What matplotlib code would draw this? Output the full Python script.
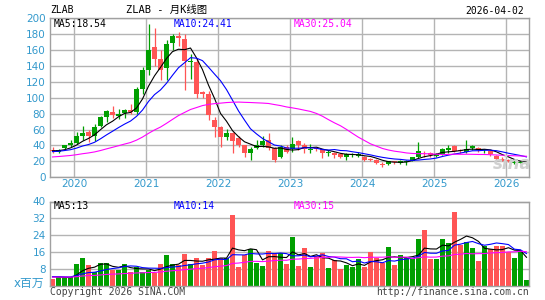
import numpy as np
import pandas as pd
import matplotlib
matplotlib.use("Agg")
import matplotlib.pyplot as plt

# ZLAB 月K线, 2019-09 .. 2026-04
months = pd.period_range("2019-09", "2026-04", freq="M")

opens = [34, 32, 37, 40, 43, 52, 57, 52, 65, 76, 82, 77, 81, 84, 82, 111,
         135, 164, 149, 137, 168, 177, 174, 144.5, 145, 107, 105, 72, 63, 51, 55, 49,
         40, 31, 37, 40, 47, 37, 26, 38, 35, 46, 40, 34, 37, 35, 30, 31,
         29, 26, 28, 27, 26, 23, 22, 17, 17, 20, 18, 19, 20.5, 26, 31, 30,
         27, 29, 34, 39, 34, 32, 36.5, 37, 34, 33, 27, 23, 21.5, 18.5, 18.5, 17.5]
highs = [38, 35, 41, 47, 57, 64, 60, 67, 77, 84, 89, 86, 86, 92, 113, 138,
         193, 188, 160, 172, 180, 182, 180, 155, 150, 108, 108, 76, 64, 61, 57, 52,
         41, 38, 47, 52, 55, 38, 40, 40, 51, 47, 43, 42, 38, 36, 34, 32,
         30, 31, 31, 32, 27, 24.5, 23, 19, 21, 21, 22, 22, 26, 44, 33, 32,
         31, 37, 40, 41, 36, 47, 40, 38, 36, 34, 28, 25, 22.5, 21.5, 21, 20.5]
lows = [31, 31, 36, 38, 42, 47, 44, 46, 63, 70, 74, 73, 74, 80, 80, 105,
        128, 140, 122, 122, 160, 165, 109, 124, 100, 99, 72, 50, 38, 47, 30, 38,
        26, 22, 35, 38, 34, 19, 24, 30, 32, 34, 30, 31, 33, 24, 27, 24,
        24, 22, 25, 25, 20, 20, 17, 13, 16, 17, 17, 16, 20, 24, 26, 26,
        25, 28, 30, 32, 31, 31, 34, 32, 31, 27, 22, 20, 19, 17, 17.5, 17]
closes = [32.5, 34, 40.5, 43.5, 52, 56, 52, 63, 76, 83, 78, 80, 84, 82, 111, 135,
          160, 149, 135, 167, 178, 175, 146, 145.5, 105, 104, 78, 63, 51, 56, 45, 40,
          31, 36, 41, 46, 37, 22, 38, 32, 42, 40, 36, 36, 35, 30, 31.5, 28,
          26, 29, 29, 29, 22, 22, 18, 16, 20, 19, 21, 20, 25.5, 33, 30, 28,
          29, 36, 37, 33, 33, 35, 39, 34, 35, 29, 23, 21, 20, 19, 18.5, 18]
volumes = [3, 4, 4, 4, 10.3, 13.2, 9.8, 6.7, 11, 11, 7.5, 7.5, 10.3, 6.7, 8.7, 6.7,
           7.5, 6.2, 10.3, 14.6, 10.3, 9.8, 15, 10.3, 13.2, 9.8, 13.2, 16.5, 13, 13, 33.6, 9,
           14.6, 17.3, 11, 9.4, 16.5, 15, 15.7, 10.3, 22.9, 9.4, 18.1, 8.9, 14.3, 15.7, 8.4, 12.2,
           8.1, 9.8, 9, 12.7, 8.7, 16.2, 13, 11, 18.6, 9.8, 14.6, 13, 13, 22.2, 26.5, 12.7,
           12.7, 22.2, 20.5, 35.2, 19.4, 20.6, 18.1, 11.9, 18.9, 17.3, 18.9, 18.9, 16.2, 13.2, 16.5, 2.7]

# 2019-09 之前的数据, 只用来算均线
prev_closes = [18, 21, 24, 22, 20, 22, 25, 23, 21, 19, 20, 22, 24, 21, 19,
               20, 22, 25, 27, 29, 30, 31, 33, 32, 30, 33, 35, 32, 34]
prev_volumes = [3, 4, 5, 4, 3, 4, 5, 4, 3, 4, 4, 5, 4, 3, 4,
                4, 5, 4, 4, 3, 4, 5, 4, 4, 5, 4, 5, 5, 4]

price_ticks = list(range(0, 201, 20))
vol_ticks = [8, 16, 24, 32, 40]

UP = "#009f00"
DOWN = "#ff5555"
GRID = "#b4b4b4"
TICK = "#3399cc"

def ma(prev, vals, n):
    s = pd.Series(prev + vals).rolling(n).mean().values
    return s[len(prev):]

x = np.arange(len(months))
o = np.array(opens); c = np.array(closes)
h = np.array(highs); l = np.array(lows)
colors = [UP if cc >= oo else DOWN for oo, cc in zip(o, c)]

year_idx = [i for i, m in enumerate(months) if m.month == 1]
year_pos = [i - 0.4 for i in year_idx]
year_labels = [str(months[i].year) for i in year_idx]

W, H = 545, 300
fig = plt.figure(figsize=(W / 100, H / 100), dpi=100)
fig.patch.set_facecolor("white")

def fx(px): return px / W
def fy(py): return 1 - py / H

# ---- 主图 ----
ax = fig.add_axes([fx(50), fy(177.3), fx(479.3), 159.3 / H])
ax.set_xlim(-0.42, 79.47)
ax.set_ylim(0, 200)
ax.set_yticks(price_ticks)
ax.set_xticks(year_pos)
ax.set_xticklabels(year_labels)
ax.grid(True, color=GRID, lw=1.0)
ax.set_axisbelow(True)

ax.vlines(x, l, h, colors=colors, lw=0.9, zorder=2)
body = np.maximum(np.abs(c - o), 1.0)
ax.bar(x, body, bottom=np.minimum(o, c), width=0.75, color=colors, lw=0, zorder=3)

ax.plot(x, ma(prev_closes, closes, 5), color="black", lw=0.8, zorder=4)
ax.plot(x, ma(prev_closes, closes, 10), color="#0000ff", lw=0.8, zorder=4)
ax.plot(x, ma(prev_closes, closes, 30), color="#ff00ff", lw=0.8, zorder=4)

# ---- 成交量 ----
av = fig.add_axes([fx(50), fy(285.7), fx(479.3), 84.2 / H])
av.set_xlim(-0.42, 79.47)
av.set_ylim(0, 40)
av.set_yticks(vol_ticks)
av.set_xticks([])
av.grid(True, axis="y", color=GRID, lw=1.0)
av.set_axisbelow(True)
av.bar(x, volumes, width=0.82, color=colors, lw=0, zorder=2)
av.plot(x, ma(prev_volumes, volumes, 5), color="black", lw=0.8, zorder=3)
av.plot(x, ma(prev_volumes, volumes, 10), color="#0000ff", lw=0.8, zorder=3)
av.plot(x, ma(prev_volumes, volumes, 30), color="#ff00ff", lw=0.8, zorder=3)

for a in (ax, av):
    for sp in a.spines.values():
        sp.set_color("#a0a0a0")
        sp.set_linewidth(1.0)
    a.tick_params(length=0, colors=TICK, labelsize=7.5, pad=3)
    for t in a.get_yticklabels():
        t.set_fontfamily("DejaVu Sans")
ax.tick_params(axis="x", pad=1)

mono = ["DejaVu Sans Mono", "Noto Sans CJK SC"]
sans = ["DejaVu Sans", "Noto Sans CJK SC"]

fig.text(fx(50), fy(10), "ZLAB", family=mono, fontsize=7, va="center")
fig.text(fx(167), fy(10), "ZLAB - 月K线图", family=mono, fontsize=7.5, va="center", ha="center")
fig.text(fx(524), fy(11), "2026-04-02", family=mono, fontsize=7, va="center", ha="right")

fig.text(fx(54), fy(24), "MA5:18.54", family=mono, fontsize=7, va="center", color="black")
fig.text(fx(174), fy(24), "MA10:24.41", family=mono, fontsize=7, va="center", color="#0000ff")
fig.text(fx(294), fy(24), "MA30:25.04", family=mono, fontsize=7, va="center", color="#ff00ff")

fig.text(fx(54), fy(206), "MA5:13", family=mono, fontsize=7, va="center", color="black")
fig.text(fx(174), fy(206), "MA10:14", family=mono, fontsize=7, va="center", color="#0000ff")
fig.text(fx(294), fy(206), "MA30:15", family=mono, fontsize=7, va="center", color="#ff00ff")

fig.text(fx(44), fy(283), "x百万", family=sans, fontsize=8.5, va="center", ha="right", color=TICK)
fig.text(fx(50), fy(292), "Copyright 2026 SINA.COM", family=mono, fontsize=7, va="center", color="#444444")
fig.text(fx(529), fy(292), "http://finance.sina.com.cn", family=mono, fontsize=7, va="center",
         ha="right", color="#444444")

fig.text(fx(512), fy(164), "sina", fontsize=12, style="italic", weight="bold",
         color="#d0d0d0", ha="center", va="center", zorder=5)

fig.savefig("out.png", dpi=100)
